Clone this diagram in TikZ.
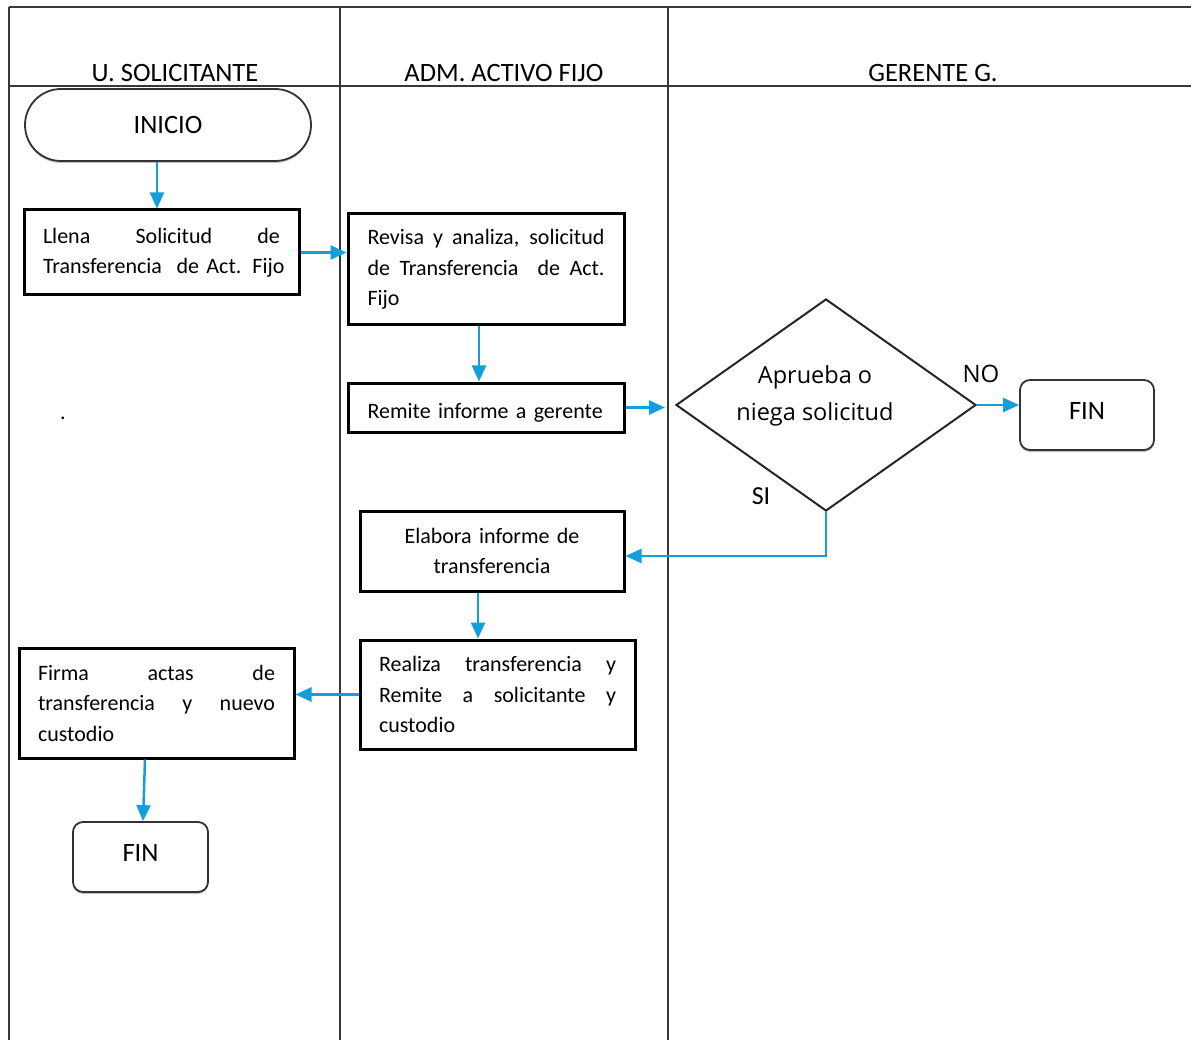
\documentclass[tikz,border=0pt]{standalone}
\usepackage{fontspec}
\setmainfont{Carlito}
\newfontfamily\osans{Open Sans}
\usetikzlibrary{arrows.meta,shapes.geometric,shadows}

\definecolor{flow}{RGB}{20,158,220}
\definecolor{rule}{RGB}{55,55,55}

% one fully justified line inside a task box (font spaces, so they can stretch)
\newcommand\jline[1]{\makebox[237pt][s]{\spaceskip=0pt\xspaceskip=0pt\relax #1}}

\begin{document}
\begin{tikzpicture}[x=1pt,y=-1pt,
  lane/.style={draw=rule,line width=1.6pt},
  head/.style={font=\fontsize{26.5}{30}\selectfont},
  task/.style={draw=black,line width=3pt,rectangle,inner sep=0pt,
    text width=237pt,align=left,font=\fontsize{22}{30.5}\selectfont},
  term/.style={draw=black!80,line width=1.8pt,rectangle,rounded corners=10pt,
    inner sep=0pt,fill=white,font=\fontsize{26.5}{30}\selectfont,
    drop shadow={shadow xshift=0pt,shadow yshift=-2pt,fill=black!40,opacity=.6}},
  flowarrow/.style={draw=flow,line width=2.5pt,-{Triangle[length=16pt,width=14pt]}}]

\useasboundingbox (0,0) rectangle (1191,1040);

% swimlane frame
\draw[lane,line width=2.4pt] (9,7) -- (1191,7);
\draw[lane] (9,86) -- (1191,86);
\draw[lane] (9,7) -- (9,1040);
\draw[lane] (340,7) -- (340,1040);
\draw[lane] (668,7) -- (668,1040);

% lane titles
\node[head] (h1) at (175,73) {U. SOLICITANTE};
\node[head] (h2) at (504,73) {ADM. ACTIVO FIJO};
\node[head] (h3) at (933,73) {GERENTE G.};

% terminators
\node[term,rounded corners=36pt,minimum width=286pt,minimum height=72pt] (start) at (168,125) {INICIO};
\node[term,text depth=8pt,minimum width=134pt,minimum height=70pt] (fin1) at (1087,415) {FIN};
\node[term,text depth=8pt,minimum width=135pt,minimum height=70pt] (fin2) at (140.5,857) {FIN};

% process steps
\node[task,minimum width=275pt,minimum height=85pt] (box1) at (161.5,252.5)
  {\jline{Llena Solicitud de}\\\mbox{Transferencia\ \ de Act. Fijo}};
\node[task,minimum width=276pt,minimum height=111pt] (box2) at (486,269.5)
  {\jline{Revisa y analiza, solicitud}\\\jline{de Transferencia\ \ de Act.}\\Fijo};
\node[task,text height=25pt,minimum width=276pt,minimum height=49pt] (box3) at (486,407.5)
  {\mbox{Remite informe a gerente}};
\node[task,align=center,minimum width=264pt,minimum height=80pt] (box4) at (492,551)
  {Elabora informe de\\transferencia};
\node[task,minimum width=275pt,minimum height=109pt] (box5) at (497.5,694.5)
  {\jline{Realiza transferencia y}\\\jline{Remite a solicitante y}\\custodio};
\node[task,minimum width=275pt,minimum height=110pt] (box6) at (156.5,703)
  {\jline{Firma actas de}\\\jline{transferencia y nuevo}\\custodio};

% decision
\node[diamond,draw=black!85,line width=2pt,aspect=1.415,inner sep=0pt,
  minimum width=300pt,minimum height=212pt] (d) at (826,405) {};
\node[font=\osans\fontsize{23.5}{37}\selectfont,align=center] (dtext) at (815,396)
  {Aprueba o\\niega solicitud};
\node[font=\osans\fontsize{24}{28}\selectfont] (no) at (981,374) {NO};
\node[font=\fontsize{26}{30}\selectfont] (si) at (761,496) {SI};

\node[font=\fontsize{22}{26}\selectfont] (dot) at (63,418) {.};

% flow
\draw[flowarrow] ([xshift=-11pt]start.south) -- ([xshift=-4.5pt]box1.north);
\draw[flowarrow] (box1.east) -- (box1.east -| box2.west);
\draw[flowarrow] ([xshift=-7pt]box2.south) -- ([xshift=-7pt]box3.north);
\draw[flowarrow,shorten >=10pt] (box3.east) -- (box3.east -| d.west);
\draw[flowarrow] (d.east) -- (d.east -| fin1.west);
\draw[flowarrow] (d.south) |- ([yshift=-5pt]box4.east);
\draw[flowarrow] ([xshift=-14pt]box4.south) -- ([xshift=-19.5pt]box5.north);
\draw[flowarrow] (box5.west) -- (box5.west -| box6.east);
\draw[flowarrow] ([xshift=-11.5pt]box6.south) -- ([xshift=2.5pt]fin2.north);

\end{tikzpicture}
\end{document}
